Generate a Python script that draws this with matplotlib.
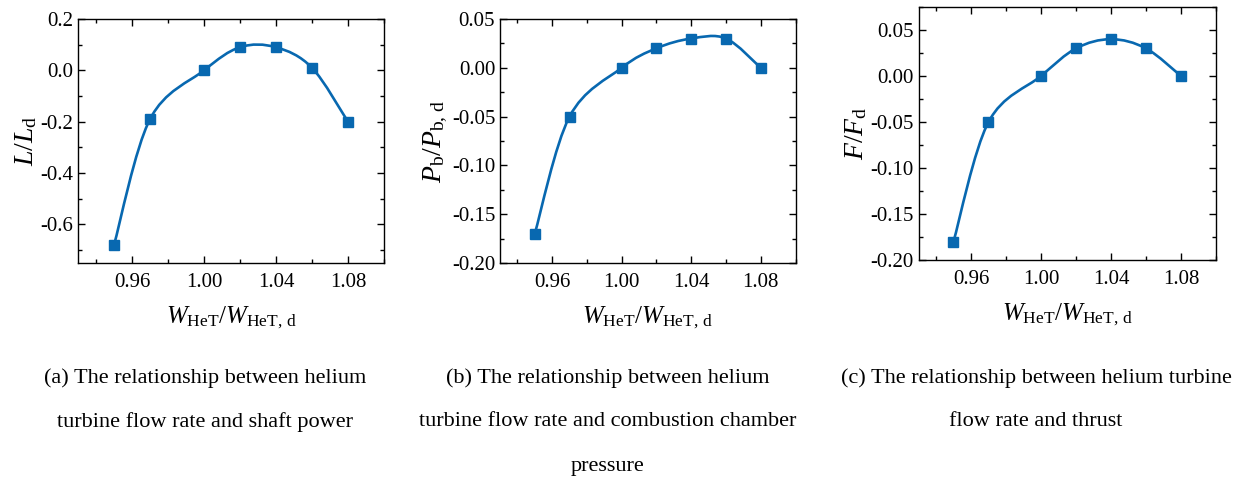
import numpy as np
import matplotlib
matplotlib.use("Agg")
import matplotlib.pyplot as plt
from matplotlib.path import Path
from matplotlib.patches import PathPatch
from matplotlib.ticker import MultipleLocator, FormatStrFormatter

plt.rcParams['font.family'] = ['Liberation Serif', 'DejaVu Serif']
plt.rcParams['mathtext.fontset'] = 'custom'
plt.rcParams['mathtext.rm'] = 'Liberation Serif'
plt.rcParams['mathtext.it'] = 'Liberation Serif:italic'
plt.rcParams['axes.unicode_minus'] = False
plt.rcParams['font.size'] = 14

# data
flow = [0.95, 0.97, 1.00, 1.02, 1.04, 1.06, 1.08]
shaft_power = [-0.68, -0.19, 0.0, 0.09, 0.09, 0.01, -0.20]
chamber_pressure = [-0.17, -0.05, 0.0, 0.02, 0.03, 0.03, 0.0]
thrust = [-0.18, -0.05, 0.0, 0.03, 0.04, 0.03, 0.0]

xticks = [0.96, 1.00, 1.04, 1.08]
xlabel = r'$W_{\rm HeT}/W_{\rm HeT,\,d}$'
ylabels = [r'$L/L_{\rm d}$', r'$P_{\rm b}/P_{\rm b,\,d}$', r'$F/F_{\rm d}$']
captions = [
    ["(a) The relationship between helium", "turbine flow rate and shaft power"],
    ["(b) The relationship between helium", "turbine flow rate and combustion chamber", "pressure"],
    ["(c) The relationship between helium turbine", "flow rate and thrust"],
]

blue = '#0868B0'
W, H = 1247, 487
fig = plt.figure(figsize=(W / 100, H / 100), dpi=100)


def px_axes(l, t, r, b):
    return fig.add_axes([l / W, (H - b) / H, (r - l) / W, (b - t) / H])


def smooth_path(xs, ys):
    # catmull-rom segments drawn as cubic beziers
    p = np.column_stack([xs, ys])
    p = np.vstack([p[0], p, p[-1]])
    verts = [p[1]]
    codes = [Path.MOVETO]
    for i in range(1, len(p) - 2):
        c1 = p[i] + (p[i + 1] - p[i - 1]) / 6
        c2 = p[i + 1] - (p[i + 2] - p[i]) / 6
        verts += [c1, c2, p[i + 1]]
        codes += [Path.CURVE4] * 3
    return Path(verts, codes)


boxes = [(78, 19, 384, 263), (500, 19, 795.5, 263), (918.5, 7, 1216, 260)]
series = [shaft_power, chamber_pressure, thrust]
ylims = [(-0.75, 0.2), (-0.2, 0.05), (-0.2, 0.075)]
ymaj = [0.2, 0.05, 0.05]
cap_x = [205, 608, 1036]
cap_y = [378, 422, 467]

for k in range(3):
    ax = px_axes(*boxes[k])
    ys = series[k]
    ax.add_patch(PathPatch(smooth_path(flow, ys), fc='none', ec=blue, lw=1.9))
    ax.plot(flow, ys, 's', color=blue, ms=7, zorder=3)
    ax.set_xlim(0.93, 1.10)
    ax.set_ylim(*ylims[k])
    ax.set_xticks(xticks)
    ax.xaxis.set_minor_locator(MultipleLocator(0.02))
    ax.yaxis.set_major_locator(MultipleLocator(ymaj[k]))
    ax.yaxis.set_minor_locator(MultipleLocator(ymaj[k] / 2))
    ax.xaxis.set_major_formatter(FormatStrFormatter('%.2f'))
    ax.yaxis.set_major_formatter(FormatStrFormatter('%.1f' if k == 0 else '%.2f'))
    ax.tick_params(which='both', direction='in', top=True, right=True, labelsize=15)
    ax.tick_params(axis='x', which='major', pad=7)
    ax.tick_params(which='major', length=5, width=1)
    ax.tick_params(which='minor', length=3, width=1)
    for s in ax.spines.values():
        s.set_linewidth(1)
    ax.set_xlabel(xlabel, fontsize=18, labelpad=9)
    ax.set_ylabel(ylabels[k], fontsize=20, labelpad=1)
    for j, line in enumerate(captions[k]):
        fig.text(cap_x[k] / W, 1 - cap_y[j] / H, line, ha='center', va='center', fontsize=16)

fig.savefig('out.png', dpi=100)
